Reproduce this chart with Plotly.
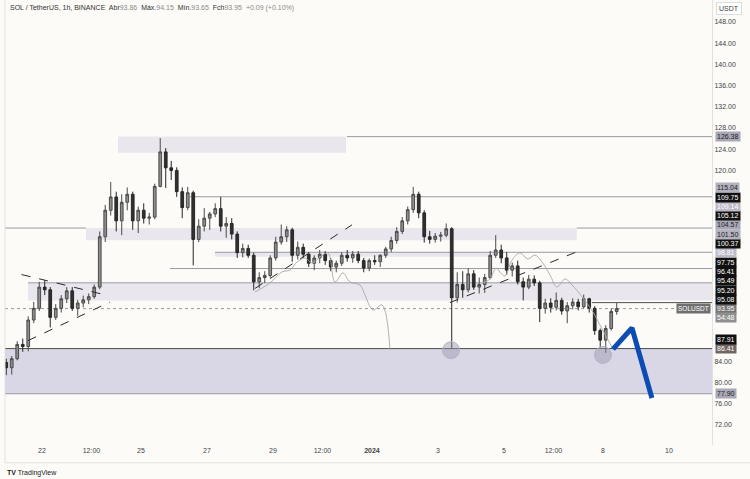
import pandas as pd
import plotly.graph_objects as go

# ------------------------------------------------------------------ data
BASE = pd.Timestamp("2023-12-22 00:00")          # hour offsets below are from this time
candle_times = pd.date_range("2023-12-20 22:00", periods=112, freq="4h")  # 4h candle centres

opens = [83.8, 82.8, 84.5, 87.2, 86.8, 91.8, 94.0, 98.0, 97.5, 92.3, 94.0, 95.8, 97.3, 94.0, 95.0, 95.6,
         96.2, 98.0, 107.5, 112.5, 115.0, 110.5, 114.0, 115.5, 110.5, 112.5, 111.0, 111.2, 117.0, 123.5,
         120.5, 120.0, 116.0, 113.0, 115.8, 107.0, 109.5, 111.0, 111.8, 112.8, 109.5, 110.0, 108.0, 104.5,
         105.3, 104.0, 99.0, 99.8, 100.2, 103.5, 106.5, 107.5, 108.8, 104.0, 105.5, 104.2, 102.5, 103.5,
         104.2, 103.0, 101.8, 102.5, 104.0, 103.5, 104.2, 103.0, 101.6, 103.0, 102.8, 104.0, 105.2, 106.8,
         108.5, 110.5, 112.6, 115.5, 112.0, 107.5, 107.0, 107.6, 107.8, 109.0, 96.0, 98.5, 97.5, 100.5,
         98.0, 98.5, 99.8, 104.0, 105.0, 103.5, 101.2, 102.0, 99.0, 98.0, 99.5, 98.8, 94.0, 95.0, 94.2,
         95.5, 93.5, 94.5, 95.2, 94.3, 95.8, 94.0, 89.8, 88.0, 90.2, 93.4]
highs = [84.5, 85.0, 87.8, 88.3, 92.5, 95.2, 99.0, 99.3, 98.0, 94.8, 96.5, 98.0, 98.0, 95.6, 96.4, 96.8,
         98.5, 108.5, 113.5, 117.8, 116.0, 115.5, 116.8, 116.0, 113.2, 113.8, 112.0, 117.5, 126.1, 124.2,
         121.8, 120.6, 116.8, 116.9, 116.2, 110.8, 112.9, 112.2, 113.8, 115.0, 111.2, 111.0, 108.5, 106.2,
         106.0, 104.5, 100.8, 101.0, 104.0, 107.5, 109.8, 109.5, 109.2, 106.6, 106.2, 104.6, 104.0, 105.0,
         104.8, 103.5, 103.0, 104.6, 105.0, 104.8, 104.8, 103.5, 103.4, 104.0, 104.2, 105.6, 107.5, 109.3,
         111.2, 113.2, 116.9, 116.0, 112.5, 108.6, 108.2, 108.4, 110.0, 109.3, 100.8, 101.0, 101.6, 101.2,
         99.8, 100.5, 104.8, 107.8, 106.0, 104.6, 102.6, 103.0, 99.8, 100.3, 100.2, 99.2, 95.8, 95.9, 97.0,
         96.0, 95.2, 95.9, 95.8, 96.6, 96.0, 94.4, 90.2, 90.8, 94.0, 95.0]
lows = [81.4, 81.5, 84.2, 85.8, 85.9, 91.2, 93.5, 96.5, 90.4, 91.8, 93.2, 95.0, 93.5, 92.6, 94.2, 94.8,
        95.8, 97.6, 106.5, 111.5, 108.5, 107.8, 112.5, 108.8, 108.2, 110.0, 109.8, 110.8, 116.8, 116.7,
        118.2, 115.0, 111.0, 112.5, 102.1, 106.5, 108.5, 108.8, 111.2, 108.5, 107.3, 107.0, 103.5, 103.6,
        103.5, 97.4, 97.8, 98.8, 99.8, 103.0, 106.0, 106.5, 102.8, 103.2, 103.5, 101.8, 101.2, 102.5,
        102.2, 101.0, 100.8, 102.0, 102.8, 102.6, 102.5, 100.8, 101.0, 102.2, 101.8, 103.5, 104.6, 106.2,
        108.0, 109.8, 112.0, 111.0, 106.4, 106.2, 106.4, 106.6, 107.4, 86.41, 95.1, 96.0, 97.0, 97.5,
        96.8, 96.9, 99.5, 103.5, 102.5, 100.3, 100.0, 98.5, 95.5, 97.6, 98.2, 91.4, 93.0, 93.2, 93.6,
        92.8, 91.2, 93.8, 93.6, 94.0, 93.2, 89.0, 86.6, 85.6, 89.8, 92.8]
closes = [82.8, 84.5, 87.2, 86.8, 91.8, 94.0, 98.0, 97.5, 92.3, 94.0, 95.8, 97.3, 94.0, 95.0, 95.6, 96.2,
          98.0, 107.5, 112.5, 115.0, 110.5, 114.0, 115.5, 110.5, 112.5, 111.0, 111.2, 117.0, 123.5, 120.5,
          120.0, 116.0, 113.0, 115.8, 107.0, 109.5, 111.0, 111.8, 112.8, 109.5, 110.0, 108.0, 104.5, 105.3,
          104.0, 99.0, 99.8, 100.2, 103.5, 106.5, 107.5, 108.8, 104.0, 105.5, 104.2, 102.5, 103.5, 104.2,
          103.0, 101.8, 102.5, 104.0, 103.5, 104.2, 103.0, 101.6, 103.0, 102.8, 104.0, 105.2, 106.8, 108.5,
          110.5, 112.6, 115.5, 112.0, 107.5, 107.0, 107.6, 107.8, 109.0, 96.0, 98.5, 97.5, 100.5, 98.0,
          98.5, 99.8, 104.0, 105.0, 103.5, 101.2, 102.0, 99.0, 98.0, 99.5, 98.8, 94.0, 95.0, 94.2, 95.5,
          93.5, 94.5, 95.2, 94.3, 95.8, 94.0, 89.8, 88.0, 90.2, 93.4, 93.95]

# horizontal levels: (price, start hour, end hour or None = to right edge)
level_lines = [(126.38, 221.8, None), (115.04, 107.6, None), (109.14, None, 32.0), (109.14, 389.0, None),
               (104.57, 125.8, None), (101.50, 93.0, None), (98.81, -10.2, None), (95.08, 400.0, None),
               (86.41, None, None), (77.90, None, None)]
# zones: (start hour, end hour, top, bottom)
zones_light = [(55.3, 221.1, 126.38, 123.35), (32.0, 389.0, 109.14, 106.85),
               (125.8, 330.0, 104.57, 103.75), (-10.2, None, 98.81, 95.49)]
zone_main = (None, None, 86.41, 77.90)
last_price = 93.95

# dashed trend lines: (hour0, price0, hour1, price1)
trendlines = [(-14.8, 100.37, 48.0, 96.41), (-10.2, 87.91, 49.5, 95.20),
              (154.9, 97.75, 225.5, 109.75), (296.7, 95.08, 393.5, 105.12)]

# thin projected paths
ghost1_h = [155, 165.8, 174.5, 180.4, 185.5, 191.3, 196.4, 202.2, 208, 213.1, 218.9, 224, 231.3, 234.9, 240.7, 247.3, 253.1]
ghost1_p = [97.08, 98.78, 100.85, 101.23, 102.74, 103.49, 102.55, 103.68, 104.44, 98.97, 100.66, 98.97, 98.4, 96.52, 93.69, 94.63, 86.14]
ghost2_h = [320.7, 325.8, 330.2, 333.1, 336.7, 341.8, 347.6, 353.5, 358.5, 363.6, 369.5, 374.5, 380.4, 385.5, 393.5, 400.7, 405.8, 410.9, 414.5]
ghost2_p = [98.78, 99.53, 101.6, 100.85, 100.1, 103.1, 104.43, 103.3, 104.05, 102.74, 100.29, 98.03, 99.54, 98.4, 95.95, 93.31, 90.86, 88.41, 86.71]

circles_h = [297.5, 408.0]
circles_p = [86.1, 85.2]

arrow_h = [415.3, 429.1, 443.6]
arrow_p = [86.3, 90.3, 77.1]

# right-scale price labels: (price, background, text colour)
price_labels = [(126.38, "#a9a8b6", "#222222"), (115.04, "#b3b2be", "#222222"), (109.75, "#111111", "#ffffff"),
                (109.14, "#bcbbc7", "#ffffff"), (105.12, "#111111", "#ffffff"), (104.57, "#a9a8b6", "#222222"),
                (101.50, "#b3b2be", "#222222"), (100.37, "#111111", "#ffffff"), (98.81, "#bcbbc7", "#ffffff"),
                (97.75, "#111111", "#ffffff"), (96.41, "#111111", "#ffffff"), (95.49, "#111111", "#ffffff"),
                (95.20, "#111111", "#ffffff"), (95.08, "#111111", "#ffffff"), (93.95, "#757575", "#ffffff"),
                (87.91, "#111111", "#ffffff"), (86.41, "#6f6662", "#ffffff"), (77.90, "#a9a8b6", "#222222")]
countdown = "54:48"

y_ticks = [72, 76, 80, 84, 120, 124, 128, 132, 136, 140, 144, 148]
x_tick_times = ["2023-12-22", "2023-12-23 12:00", "2023-12-25", "2023-12-27", "2023-12-29",
                "2023-12-30 12:00", "2024-01-01", "2024-01-03", "2024-01-05", "2024-01-06 12:00",
                "2024-01-08", "2024-01-10"]
x_tick_text = ["22", "12:00", "25", "27", "29", "12:00", "<b>2024</b>", "3", "5", "12:00", "8", "10"]

header = ("SOL / TetherUS, 1h, BINANCE  Abr<span style='color:#8a8a8a'>93.86</span>  "
          "Máx.<span style='color:#8a8a8a'>94.15</span>  Mín.<span style='color:#8a8a8a'>93.65</span>  "
          "Fch<span style='color:#8a8a8a'>93.95</span>  <span style='color:#8a8a8a'>+0.09 (+0.10%)</span>")

# ------------------------------------------------------------------ layout constants
W, H = 750, 479
M_L, M_R, M_T, M_B = 5, 38, 0, 34
Y_MIN, Y_MAX = 68.23, 152.14
X_MIN_H, X_MAX_H = -26.9, 487.3
FONT = "Liberation Sans"
BG = "#fcfbf8"


def T(h):
    return BASE + pd.Timedelta(hours=h)


X0, X1 = T(X_MIN_H), T(X_MAX_H)

fig = go.Figure()

# zones
for (h0, h1, top, bot) in zones_light:
    fig.add_shape(type="rect", x0=X0 if h0 is None else T(h0), x1=X1 if h1 is None else T(h1),
                  y0=bot, y1=top, fillcolor="#e9e7ed", line_width=0, layer="below")
fig.add_shape(type="rect", x0=X0, x1=X1, y0=zone_main[3], y1=zone_main[2],
              fillcolor="#d9d7e5", line_width=0, layer="below")

# horizontal levels
for (p, h0, h1) in level_lines:
    col = "#4d4d4d" if p in (86.41, 95.08) else "#9a99a4"
    fig.add_shape(type="line", x0=X0 if h0 is None else T(h0), x1=X1 if h1 is None else T(h1),
                  y0=p, y1=p, line=dict(color=col, width=1), layer="below")
fig.add_shape(type="line", x0=X0, x1=X1, y0=last_price, y1=last_price,
              line=dict(color="#9a9a9a", width=1, dash="dot"), layer="below")

# ghost paths
for hs, ps in ((ghost1_h, ghost1_p), (ghost2_h, ghost2_p)):
    fig.add_trace(go.Scatter(x=[T(h) for h in hs], y=ps, mode="lines", line=dict(color="#a8a8a8", width=0.9),
                             line_shape="spline", hoverinfo="skip", showlegend=False))

# candles
fig.add_trace(go.Candlestick(x=candle_times, open=opens, high=highs, low=lows, close=closes,
                             increasing=dict(line=dict(color="#4a4a4a", width=1), fillcolor="#8e8e8e"),
                             decreasing=dict(line=dict(color="#262626", width=1), fillcolor="#303030"),
                             whiskerwidth=0, showlegend=False, hoverinfo="skip"))

# dashed trend lines
for (h0, p0, h1, p1) in trendlines:
    fig.add_trace(go.Scatter(x=[T(h0), T(h1)], y=[p0, p1], mode="lines",
                             line=dict(color="#2a2a2a", width=1, dash="dash"), hoverinfo="skip", showlegend=False))

# circles
fig.add_trace(go.Scatter(x=[T(h) for h in circles_h], y=circles_p, mode="markers",
                         marker=dict(size=17, color="rgba(150,148,170,0.45)", line=dict(color="#b5b4c2", width=1)),
                         hoverinfo="skip", showlegend=False))

# blue arrow
fig.add_trace(go.Scatter(x=[T(h) for h in arrow_h], y=arrow_p, mode="lines",
                         line=dict(color="#0c4db5", width=5), hoverinfo="skip", showlegend=False))

# ------------------------------------------------------------------ right-scale labels (stacked)
plot_h = H - M_T - M_B
gap = 9.3 * (Y_MAX - Y_MIN) / plot_h
placed = []
prev = -1e9
for (p, bg, fg) in sorted(price_labels, key=lambda t: t[0]):
    pos = max(p, prev + gap)
    placed.append((pos, p, bg, fg))
    prev = pos
annotations = []
for (pos, p, bg, fg) in placed:
    annotations.append(dict(xref="paper", yref="y", x=1, y=pos, xanchor="left", yanchor="middle", xshift=3,
                            text=f"{p:.2f}", showarrow=False, bgcolor=bg, borderpad=1,
                            font=dict(family=FONT, size=7, color=fg)))
annotations.append(dict(xref="paper", yref="y", x=1, y=last_price - gap, xanchor="left", yanchor="middle",
                        xshift=3, text=countdown, showarrow=False, bgcolor="#8f8f8f", borderpad=1,
                        font=dict(family=FONT, size=7, color="#ffffff")))
annotations.append(dict(xref="paper", yref="y", x=1, y=last_price, xanchor="right", yanchor="middle", xshift=-1,
                        text="SOLUSDT", showarrow=False, bgcolor="#6f6f6f", borderpad=1,
                        font=dict(family=FONT, size=6.5, color="#ffffff")))
annotations.append(dict(xref="paper", yref="paper", x=1, y=1, xanchor="left", yanchor="top", xshift=4, yshift=-2,
                        text="USDT", showarrow=False, bgcolor="#ffffff", bordercolor="#dddddd", borderwidth=1,
                        borderpad=2, font=dict(family=FONT, size=7, color="#444444")))
annotations.append(dict(xref="paper", yref="paper", x=0, y=1, xanchor="left", yanchor="top", xshift=3, yshift=-2,
                        text=header, showarrow=False, font=dict(family=FONT, size=7, color="#333333")))
annotations.append(dict(xref="paper", yref="paper", x=0, y=0, xanchor="left", yanchor="top", xshift=0,
                        yshift=-22, text="<b>TV</b> TradingView", showarrow=False,
                        font=dict(family=FONT, size=7, color="#222222")))

fig.update_layout(
    width=W, height=H, margin=dict(l=M_L, r=M_R, t=M_T, b=M_B),
    paper_bgcolor=BG, plot_bgcolor=BG, showlegend=False,
    annotations=annotations,
    xaxis=dict(range=[X0, X1], rangeslider=dict(visible=False), showgrid=False, zeroline=False,
               tickmode="array", tickvals=[pd.Timestamp(t) for t in x_tick_times], ticktext=x_tick_text,
               tickfont=dict(family=FONT, size=7, color="#444444"), ticks="", showline=False),
    yaxis=dict(range=[Y_MIN, Y_MAX], side="right", showgrid=False, zeroline=False, tickmode="array",
               tickvals=y_ticks, ticktext=[f"{v:.2f}" for v in y_ticks], ticks="",
               tickfont=dict(family=FONT, size=7, color="#444444"), showline=True, linecolor="#e2e2e2",
               linewidth=1),
)
# frame lines
fig.add_shape(type="line", xref="paper", yref="paper", x0=0, x1=0, y0=-0.04, y1=1,
              line=dict(color="#e2e2e2", width=1))
fig.add_shape(type="line", xref="paper", yref="paper", x0=0, x1=1.054, y0=-0.04, y1=-0.04,
              line=dict(color="#e2e2e2", width=1))

fig.write_html("out.html", config={"displayModeBar": False})
